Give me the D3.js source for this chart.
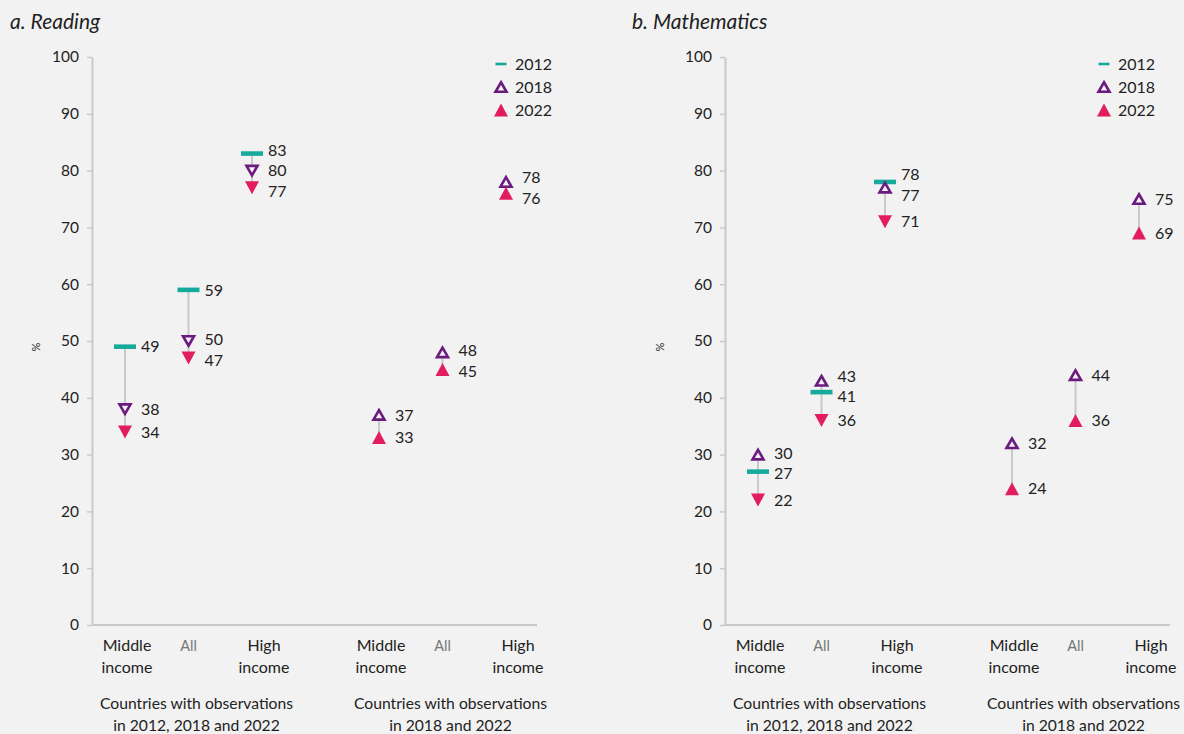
<!DOCTYPE html>
<html>
<head>
<meta charset="utf-8">
<script src="https://cdn.jsdelivr.net/npm/d3@7"></script>
<style>
  html, body { margin: 0; padding: 0; background: #f2f2f2; }
  svg { display: block; font-family: Lato, "Open Sans", sans-serif; }
</style>
</head>
<body>
<svg id="chart" width="1184" height="734"></svg>
<script>
// ---------- DATA ----------
const years = ["2012", "2018", "2022"];
const categories = ["Middle income", "All", "High income"];
const groupLabels = [
  ["Countries with observations", "in 2012, 2018 and 2022"],
  ["Countries with observations", "in 2018 and 2022"]
];
const yTicks = [0, 10, 20, 30, 40, 50, 60, 70, 80, 90, 100];

// Reading – group 1 (2012, 2018, 2022)
const reading2012 = [49, 59, 83];
const reading2018g1 = [38, 50, 80];
const reading2022g1 = [34, 47, 77];
// Reading – group 2 (2018, 2022)
const reading2018g2 = [37, 48, 78];
const reading2022g2 = [33, 45, 76];

// Mathematics – group 1
const math2012 = [27, 41, 78];
const math2018g1 = [30, 43, 77];
const math2022g1 = [22, 36, 71];
// Mathematics – group 2
const math2018g2 = [32, 44, 75];
const math2022g2 = [24, 36, 69];

// Triangle orientation of markers
const readingDir2018g1 = ["down", "down", "down"];
const readingDir2022g1 = ["down", "down", "down"];
const mathDir2018g1 = ["up", "up", "up"];
const mathDir2022g1 = ["down", "down", "down"];
const dirG2 = ["up", "up", "up"];

// ---------- STYLE ----------
const C2012 = "#17aa9c", C2018 = "#6b1b7f", C2022 = "#e21d5d";
const AXIS = "#c9c9c9", TXT = "#222", BG = "#f2f2f2";

const svg = d3.select("#chart");
const y = d3.scaleLinear().domain([0, 100]).range([625, 57]);

function buildPanel(p) {
  const g = svg.append("g");
  // title
  g.append("text").attr("x", p.titleX).attr("y", 29)
    .attr("font-size", 21).attr("font-style", "italic").attr("fill", TXT).text(p.title);

  // x slots
  const slots = ["g1-0", "g1-1", "g1-2", "gap", "g2-0", "g2-1", "g2-2"];
  const x = d3.scalePoint().domain(slots).range([p.axisX + 33, p.axisX + 414]);

  // y axis
  const ax = g.append("g").attr("transform", `translate(${p.axisX},0)`)
    .call(d3.axisLeft(y).tickValues(yTicks).tickSize(5).tickPadding(8).tickSizeOuter(0));
  ax.select(".domain").attr("stroke", AXIS).attr("stroke-width", 2);
  ax.selectAll(".tick line").attr("stroke", AXIS).attr("stroke-width", 1.5);
  ax.selectAll(".tick text").attr("font-size", 15.5).attr("fill", TXT)
    .attr("font-family", "Lato, 'Open Sans', sans-serif");
  // x axis baseline
  g.append("line").attr("x1", p.axisX).attr("x2", p.axisX + 445)
    .attr("y1", y(0)).attr("y2", y(0)).attr("stroke", AXIS).attr("stroke-width", 2);

  // % label
  g.append("text").attr("transform", `translate(${p.pctX},${y(50) + 6}) rotate(-90)`)
    .attr("text-anchor", "middle").attr("font-size", 11).attr("fill", TXT).text("%");

  // category labels
  const labelDx = [2, 0, 12];
  [0, 1].forEach(gi => {
    categories.forEach((c, i) => {
      const cx = x(`g${gi + 1}-${i}`) + labelDx[i];
      const t = g.append("text").attr("text-anchor", "middle").attr("font-size", 16);
      if (c === "All") {
        t.attr("x", cx).attr("y", 651).attr("fill", "#777").attr("font-size", 14.5).text("All");
      } else {
        const words = c.split(" ");
        t.attr("fill", TXT);
        t.append("tspan").attr("x", cx).attr("y", 651).text(words[0]);
        t.append("tspan").attr("x", cx).attr("y", 673).text(words[1]);
      }
    });
    const gx = x(`g${gi + 1}-1`) + 8;
    const gt = g.append("text").attr("text-anchor", "middle").attr("font-size", 15.7).attr("fill", TXT);
    gt.append("tspan").attr("x", gx).attr("y", 709).text(groupLabels[gi][0]);
    gt.append("tspan").attr("x", gx).attr("y", 731).text(groupLabels[gi][1]);
  });

  const tri = (dir, w, h) => dir === "up"
    ? `M0,${-h / 2}L${w / 2},${h / 2}L${-w / 2},${h / 2}Z`
    : `M0,${h / 2}L${w / 2},${-h / 2}L${-w / 2},${-h / 2}Z`;

  function drawMarker(type, cx, cy, dir) {
    if (type === "2012") {
      g.append("rect").attr("x", cx - 11).attr("y", cy - 2.3).attr("width", 22).attr("height", 4.6)
        .attr("fill", C2012);
    } else if (type === "2018") {
      g.append("path").attr("transform", `translate(${cx},${cy})`).attr("d", tri(dir, 11, 9.5))
        .attr("fill", BG).attr("stroke", C2018).attr("stroke-width", 2.6).attr("stroke-linejoin", "miter");
    } else {
      g.append("path").attr("transform", `translate(${cx},${cy})`).attr("d", tri(dir, 14, 13))
        .attr("fill", C2022);
    }
  }

  function spread(items, gap) {
    items.sort((a, b) => a.ly - b.ly);
    for (let k = 0; k < 30; k++) {
      for (let i = 0; i < items.length - 1; i++) {
        const d = items[i + 1].ly - items[i].ly;
        if (d < gap) {
          const s = (gap - d) / 2;
          items[i].ly -= s; items[i + 1].ly += s;
        }
      }
    }
    return items;
  }

  p.groups.forEach((grp, gi) => {
    categories.forEach((c, i) => {
      const cx = x(`g${gi + 1}-${i}`);
      const pts = grp.series.map(s => ({ year: s.year, v: s.values[i], dir: s.dirs ? s.dirs[i] : "up" }));
      const vs = pts.map(d => d.v);
      g.append("line").attr("x1", cx).attr("x2", cx)
        .attr("y1", y(d3.max(vs))).attr("y2", y(d3.min(vs)))
        .attr("stroke", AXIS).attr("stroke-width", 2);
      pts.forEach(d => drawMarker(d.year, cx, y(d.v), d.dir));
      const labs = spread(pts.map(d => ({ v: d.v, ly: y(d.v) })), 20.5);
      labs.forEach(l => {
        g.append("text").attr("x", cx + 16).attr("y", l.ly).attr("dy", "0.36em")
          .attr("font-size", 16).attr("fill", TXT).text(l.v);
      });
    });
  });

  // legend
  years.forEach((yr, i) => {
    const ly = 64 + i * 23;
    if (yr === "2012") {
      g.append("rect").attr("x", p.legendX - 5.5).attr("y", ly - 1.3).attr("width", 11).attr("height", 2.6).attr("fill", C2012);
    } else {
      drawMarker(yr, p.legendX, ly, "up");
    }
    g.append("text").attr("x", p.legendX + 14).attr("y", ly).attr("dy", "0.36em")
      .attr("font-size", 16).attr("fill", TXT).text(yr);
  });
}

buildPanel({
  title: "a. Reading", titleX: 10, axisX: 92, pctX: 40, legendX: 501,
  groups: [
    { series: [
      { year: "2012", values: reading2012 },
      { year: "2018", values: reading2018g1, dirs: readingDir2018g1 },
      { year: "2022", values: reading2022g1, dirs: readingDir2022g1 } ] },
    { series: [
      { year: "2018", values: reading2018g2, dirs: dirG2 },
      { year: "2022", values: reading2022g2, dirs: dirG2 } ] }
  ]
});

buildPanel({
  title: "b. Mathematics", titleX: 632, axisX: 725, pctX: 664, legendX: 1104,
  groups: [
    { series: [
      { year: "2012", values: math2012 },
      { year: "2018", values: math2018g1, dirs: mathDir2018g1 },
      { year: "2022", values: math2022g1, dirs: mathDir2022g1 } ] },
    { series: [
      { year: "2018", values: math2018g2, dirs: dirG2 },
      { year: "2022", values: math2022g2, dirs: dirG2 } ] }
  ]
});
</script>
</body>
</html>
